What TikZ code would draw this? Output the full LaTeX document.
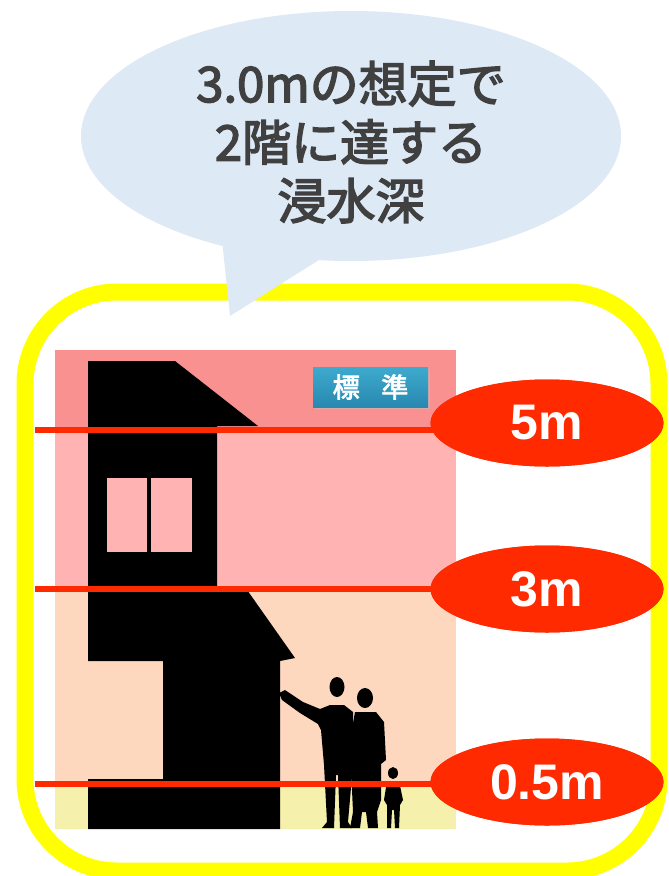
\documentclass[tikz,border=0pt]{standalone}
\usepackage{fontspec}
\usetikzlibrary{shapes.geometric}
\newfontfamily\jpmedium[FakeBold=3]{Noto Sans CJK JP}
\newfontfamily\labelfont{Liberation Sans}
\definecolor{bubblefill}{RGB}{221,233,245}
\definecolor{bubbletext}{RGB}{64,64,64}
\definecolor{frameyellow}{RGB}{255,255,0}
\definecolor{levelred}{RGB}{255,42,0}
\definecolor{bandtop}{RGB}{250,145,145}
\definecolor{bandpink}{RGB}{255,179,179}
\definecolor{bandpeach}{RGB}{253,215,190}
\definecolor{bandground}{RGB}{245,240,172}
\definecolor{badgetop}{RGB}{62,170,206}
\definecolor{badgebottom}{RGB}{40,136,176}
\tikzset{
  levelline/.style={draw=levelred, line width=6pt},
  levelbadge/.style={ellipse, fill=levelred, minimum width=233pt, minimum height=87pt,
    inner sep=0pt, text=white, font=\labelfont\bfseries\fontsize{50}{50}\selectfont},
  silhouette/.style={fill=black},
}
\begin{document}
\begin{tikzpicture}[x=1pt,y=-1pt]
\useasboundingbox (0,0) rectangle (669,876);
\fill[white] (0,0) rectangle (669,876);

% yellow frame
\draw[frameyellow, line width=17pt, rounded corners=92pt] (25,292) rectangle (659,871);

% illustration backgrounds
\fill[bandtop]    (55,350) rectangle (456,430);
\fill[bandpink]   (55,430) rectangle (456,589);
\fill[bandpeach]  (55,589) rectangle (456,784);
\fill[bandground] (55,784) rectangle (456,829);

% house
\fill[black] (88,361) -- (175,361) -- (258,426) -- (217,426) -- (217,587) -- (245,587)
  -- (295,658) -- (280,661) -- (280,829) -- (88,829) -- (88,779) -- (163,779)
  -- (163,661) -- (88,661) -- cycle;
\fill[bandpink] (107,478) rectangle (147,552);
\fill[bandpink] (151,478) rectangle (192,552);

% family
\fill[silhouette] (337,687) ellipse [x radius=7.5pt, y radius=10pt];
\fill[silhouette] (279,693) -- (285,690) -- (303,702) -- (320,709) -- (330,705) -- (344,705)
  -- (353,712) -- (353,765) -- (348,822) -- (352,828) -- (340,828) -- (338,775)
  -- (336,775) -- (334,828) -- (322,828) -- (327,822) -- (324,765) -- (321,730)
  -- (318,724) -- (300,713) -- (282,700) -- cycle;
\fill[silhouette] (365,698) ellipse [x radius=8pt, y radius=10pt];
\fill[silhouette] (355,712) -- (376,712) -- (384,722) -- (386,760) -- (381,764) -- (381,800)
  -- (377,812) -- (378,828) -- (368,828) -- (366,812) -- (362,812) -- (360,828)
  -- (350,828) -- (353,812) -- (352,790) -- (350,740) -- cycle;
\fill[silhouette] (393,773) ellipse [x radius=5pt, y radius=6pt];
\fill[silhouette] (387,781) -- (399,781) -- (403,800) -- (400,805) -- (399,828) -- (395,828)
  -- (394,810) -- (392,810) -- (391,828) -- (387,828) -- (387,805) -- (384,800) -- cycle;

% standard label
\fill[black!25, opacity=0.5] (315,369) rectangle (430,409);
\shade[top color=badgetop, bottom color=badgebottom] (313,367) rectangle (428,407);
\node[text=white, font=\jpmedium\fontsize{27}{27}\selectfont] (std) at (370.5,387) {標\hspace{0.8em}準};

% water depth levels
\coordinate (l5) at (35,430);
\coordinate (l3) at (35,589);
\coordinate (l05) at (35,784);
\node[levelbadge] (e5) at (547,423) {};
\node[levelbadge] (e3) at (547,589) {};
\node[levelbadge] (e05) at (547,782) {};
\draw[levelline] (l5) -- (e5.center |- l5);
\draw[levelline] (l3) -- (e3.center |- l3);
\draw[levelline] (l05) -- (e05.center |- l05);
\node[levelbadge] at (e5) {5m};
\node[levelbadge] at (e3) {3m};
\node[levelbadge] at (e05) {0.5m};

% speech bubble
\fill[bubblefill] (351,136) ellipse [x radius=270pt, y radius=125pt];
\fill[bubblefill] (222,240) -- (230,316) -- (322,258) -- cycle;
\node[align=center, text=bubbletext, font=\jpmedium\fontsize{49}{58.5}\selectfont]
  (msg) at (351,142) {3.0mの想定で\\2階に達する\\浸水深};
\end{tikzpicture}
\end{document}
